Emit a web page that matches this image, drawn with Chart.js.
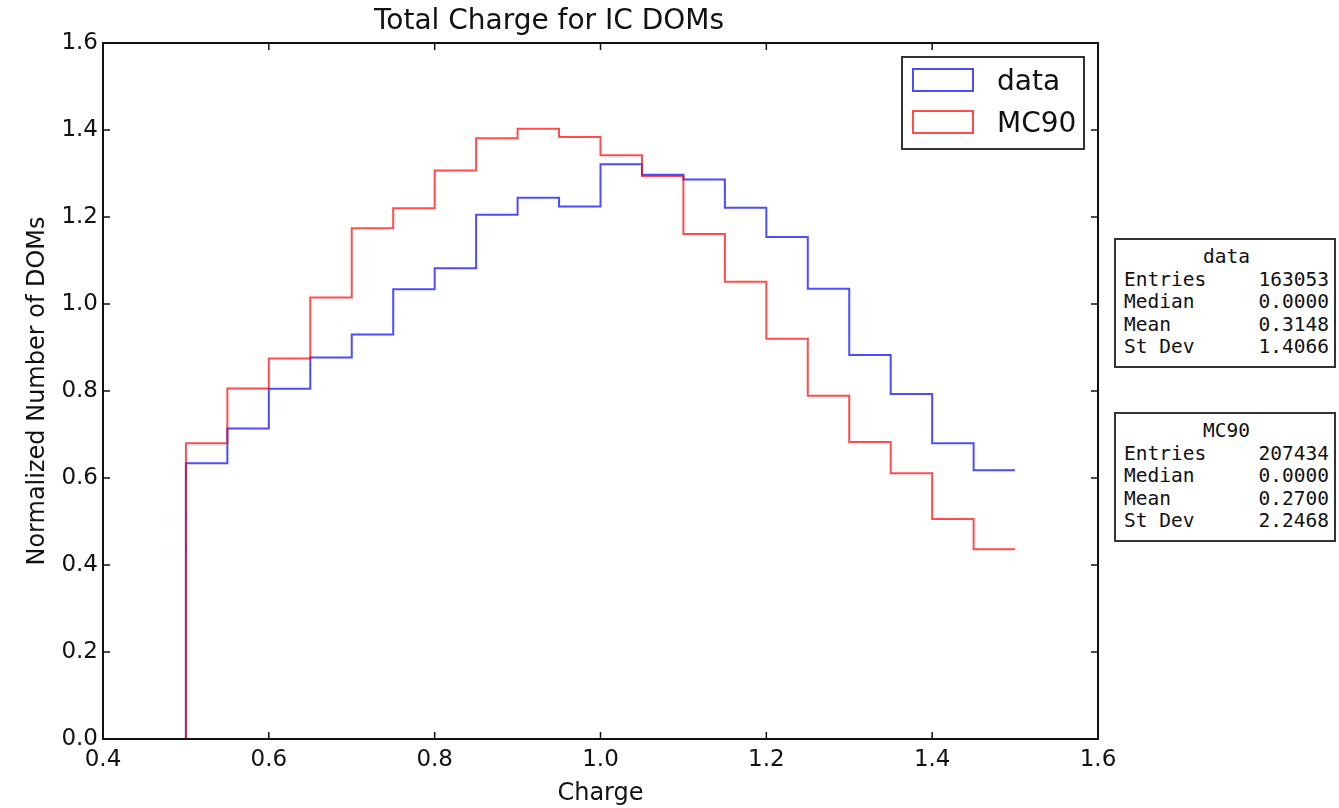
<!DOCTYPE html>
<html>
<head>
<meta charset="utf-8">
<title>Total Charge for IC DOMs</title>
<script src="https://cdn.jsdelivr.net/npm/chart.js@4/dist/chart.umd.min.js"></script>
<style>
    body { margin: 0; background: #fff; }
    #wrap { position: relative; width: 1339px; height: 808px; }
    .stats {
        position: absolute;
        left: 1114px;
        width: 222px;
        border: 2px solid #333;
        background: #fff;
        font-family: "DejaVu Sans Mono", monospace;
        font-size: 19.5px;
        line-height: 22.5px;
        color: #111;
        padding: 6px 5px 7px 8px;
        box-sizing: border-box;
    }
    .stats .ttl { text-align: center; }
    .stats .row { display: flex; justify-content: space-between; }
</style>
</head>
<body>
<div id="wrap">
    <canvas id="myChart" width="1339" height="808"></canvas>
    <div class="stats" id="statsData" style="top:238px;"></div>
    <div class="stats" id="statsMc" style="top:412px;"></div>
</div>
<script>
// histogram bins (lower edges), last bin ends at 1.5
const binLow = [0.50, 0.55, 0.60, 0.65, 0.70, 0.75, 0.80, 0.85, 0.90, 0.95,
                1.00, 1.05, 1.10, 1.15, 1.20, 1.25, 1.30, 1.35, 1.40, 1.45];
const binEnd = 1.5;

const dataVals = [0.634, 0.714, 0.805, 0.877, 0.930, 1.034, 1.082, 1.205, 1.244, 1.224,
                  1.321, 1.297, 1.286, 1.221, 1.154, 1.035, 0.883, 0.793, 0.680, 0.618];
const mc90Vals = [0.680, 0.806, 0.875, 1.015, 1.174, 1.220, 1.307, 1.381, 1.403, 1.384,
                  1.342, 1.294, 1.161, 1.051, 0.920, 0.789, 0.683, 0.611, 0.506, 0.436];

const seriesNames = ["data", "MC90"];
const seriesColors = ["rgba(0, 0, 255, 0.7)", "rgba(255, 0, 0, 0.7)"];

// stat boxes
const statLabels = ["Entries", "Median", "Mean", "St Dev"];
const statsData = ["163053", "0.0000", "0.3148", "1.4066"];
const statsMc = ["207434", "0.0000", "0.2700", "2.2468"];

const xTicks = [0.4, 1.6, 0.2];
const yTicks = [0.0, 1.6, 0.2];

function fillStats(el, name, vals) {
    let html = '<div class="ttl">' + name + '</div>';
    statLabels.forEach(function(lbl, i) {
        html += '<div class="row"><span>' + lbl + '</span><span>' + vals[i] + '</span></div>';
    });
    el.innerHTML = html;
}
fillStats(document.getElementById("statsData"), seriesNames[0], statsData);
fillStats(document.getElementById("statsMc"), seriesNames[1], statsMc);

// step outline: start at 0 on the left edge, each point holds its bin value
function stepPoints(vals) {
    let pts = [{x: binLow[0], y: 0}, {x: binLow[0], y: vals[0]}];
    for (let i = 1; i < binLow.length; i++) {
        pts.push({x: binLow[i], y: vals[i - 1]});
        pts.push({x: binLow[i], y: vals[i]});
    }
    pts.push({x: binEnd, y: vals[vals.length - 1]});
    return pts;
}

const tickFont = {family: "'DejaVu Sans', sans-serif", size: 23};
const labelFont = {family: "'DejaVu Sans', sans-serif", size: 24};

// frame, inner ticks and legend box like matplotlib
const framePlugin = {
    id: 'frame',
    afterDraw: function(chart) {
        const ctx = chart.ctx;
        const a = chart.chartArea;
        const xs = chart.scales.x, ys = chart.scales.y;
        ctx.save();
        ctx.strokeStyle = '#111';
        ctx.lineWidth = 1.5;
        xs.ticks.forEach(function(t) {
            let px = xs.getPixelForValue(t.value);
            ctx.beginPath();
            ctx.moveTo(px, a.bottom); ctx.lineTo(px, a.bottom - 7);
            ctx.moveTo(px, a.top); ctx.lineTo(px, a.top + 7);
            ctx.stroke();
        });
        ys.ticks.forEach(function(t) {
            let py = ys.getPixelForValue(t.value);
            ctx.beginPath();
            ctx.moveTo(a.left, py); ctx.lineTo(a.left + 7, py);
            ctx.moveTo(a.right, py); ctx.lineTo(a.right - 7, py);
            ctx.stroke();
        });
        ctx.lineWidth = 2;
        ctx.strokeRect(a.left, a.top, a.right - a.left, a.bottom - a.top);

        // legend
        let lx = a.right - 14 - 182, ly = a.top + 14;
        ctx.fillStyle = '#fff';
        ctx.fillRect(lx, ly, 182, 92);
        ctx.strokeStyle = '#333';
        ctx.lineWidth = 2;
        ctx.strokeRect(lx, ly, 182, 92);
        ctx.font = "28px 'DejaVu Sans', sans-serif";
        ctx.textBaseline = 'alphabetic';
        ctx.textAlign = 'left';
        seriesNames.forEach(function(name, i) {
            let ry = ly + 12 + i * 42;
            ctx.strokeStyle = seriesColors[i];
            ctx.lineWidth = 2;
            ctx.strokeRect(lx + 11, ry, 60, 22);
            ctx.fillStyle = '#111';
            ctx.fillText(name, lx + 95, ry + 21);
        });
        ctx.restore();
    }
};

new Chart("myChart", {
    type: 'line',
    data: {
        datasets: [{
            label: seriesNames[0],
            data: stepPoints(dataVals),
            borderColor: seriesColors[0],
            borderWidth: 2,
            pointRadius: 0,
            fill: false,
            order: 2
        }, {
            label: seriesNames[1],
            data: stepPoints(mc90Vals),
            borderColor: seriesColors[1],
            borderWidth: 2,
            pointRadius: 0,
            fill: false,
            order: 1
        }]
    },
    options: {
        responsive: false,
        animation: false,
        layout: {padding: {left: 0, right: 241, top: 0, bottom: 0}},
        plugins: {
            legend: {display: false},
            tooltip: {enabled: false},
            title: {
                display: true,
                text: "Total Charge for IC DOMs",
                color: '#111',
                font: {family: "'DejaVu Sans', sans-serif", size: 28, weight: 'normal'},
                padding: {top: 5, bottom: 4.4}
            }
        },
        scales: {
            x: {
                type: 'linear',
                min: xTicks[0], max: xTicks[1],
                grid: {display: false, drawTicks: false},
                border: {display: false},
                ticks: {
                    stepSize: xTicks[2], font: tickFont, color: '#111', padding: 7,
                    callback: function(v) { return v.toFixed(1); }
                },
                title: {display: true, text: "Charge", font: labelFont, color: '#111', padding: {top: 0, bottom: 0}},
                afterFit: function(s) { s.height = 69; }
            },
            y: {
                type: 'linear',
                min: yTicks[0], max: yTicks[1],
                grid: {display: false, drawTicks: false},
                border: {display: false},
                ticks: {
                    stepSize: yTicks[2], font: tickFont, color: '#111', padding: 5,
                    callback: function(v) { return v.toFixed(1); }
                },
                title: {display: true, text: "Normalized Number of DOMs", font: labelFont, color: '#111', padding: {top: 23, bottom: 0}},
                afterFit: function(s) { s.width = 103; }
            }
        }
    },
    plugins: [framePlugin]
});
</script>
</body>
</html>
